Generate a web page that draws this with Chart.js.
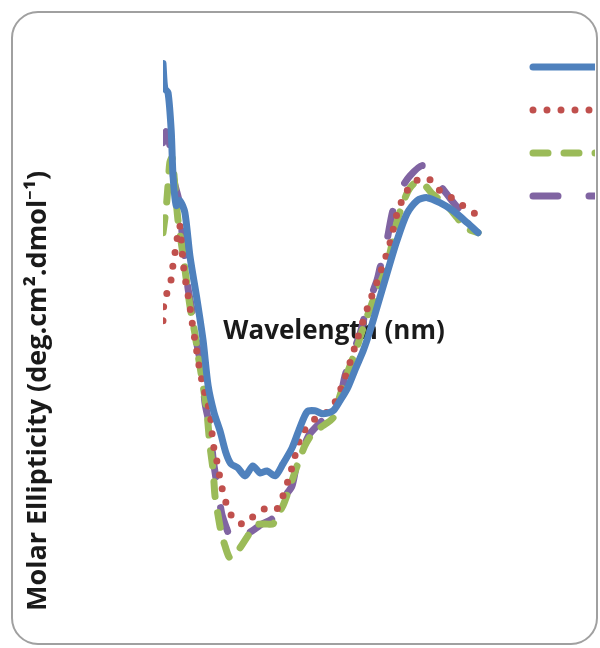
<!DOCTYPE html>
<html>
<head>
<meta charset="utf-8">
<script src="https://cdn.jsdelivr.net/npm/chart.js@4.4.1/dist/chart.umd.min.js"></script>
<style>
html,body{margin:0;padding:0;background:#fff;overflow:hidden}
#wrap{width:600px;height:648px;position:relative}
</style>
</head>
<body>
<div id="wrap"><canvas id="c" width="600" height="648"></canvas></div>
<script>
// ---- data (wavelength in nm, molar ellipticity in 10^3 deg.cm2.dmol-1) ----
const seriesNames = ["Sample 1", "Sample 2", "Sample 3", "Sample 4"];

const wlBlue = [190.0,190.4,191.1,191.8,192.2,192.9,193.7,194.8,195.9,197.5,198.8,199.9,201.2,202.5,203.8,204.9,206.4,208.0,209.7,211.3,212.8,214.6,216.3,218.3,220.0,221.6,223.3,225.1,227.3,228.8,230.4,232.3,233.9,235.4,236.9,239.1,241.3,243.5,245.7,247.9,250.7,253.6,256.7,259.1];
const valBlue = [25.2,22.7,22.3,18.5,14.0,11.0,11.5,10.3,6.0,1.5,-2.5,-7.0,-9.7,-11.5,-13.7,-14.8,-15.2,-16.0,-15.0,-15.7,-15.5,-16.0,-14.8,-13.2,-11.2,-9.6,-9.5,-9.8,-9.5,-8.5,-7.3,-5.2,-3.5,-1.5,0.8,4.2,7.5,10.2,11.5,11.8,11.3,10.5,9.3,8.3];

const wlRed = [190.0,190.2,190.7,191.5,192.0,192.6,193.1,193.7,194.4,195.0,195.7,196.4,197.2,198.1,199.2,200.3,201.0,201.8,202.5,203.2,204.3,205.8,208.0,210.6,213.0,215.0,216.3,217.4,218.5,219.4,220.7,222.7,224.9,227.3,229.9,232.5,235.0,237.6,239.8,241.5,243.3,244.8,247.9,250.7,253.6,256.4,259.1];
const valRed = [-0.5,1.2,2.1,2.8,4.5,6.2,7.7,9.0,5.3,3.3,1.5,-0.7,-3.0,-5.5,-7.8,-9.7,-12.8,-14.5,-16.2,-17.7,-19.3,-20.5,-20.8,-19.7,-19.2,-19.3,-18.0,-16.5,-14.8,-13.2,-11.7,-10.5,-10.0,-9.0,-6.2,-2.5,1.0,4.2,7.3,10.5,12.3,13.3,13.8,12.5,11.7,10.8,10.0];

const wlGreen = [190.0,190.7,191.1,191.5,192.0,192.6,193.3,194.2,195.0,195.9,197.0,197.9,198.8,199.6,200.3,201.0,201.4,202.1,202.7,203.6,204.7,206.4,208.6,210.4,212.4,214.1,215.2,216.3,217.9,219.4,221.1,222.7,224.4,227.3,228.8,231.0,232.5,233.9,235.8,237.6,239.1,241.5,243.1,244.2,245.7,247.5,249.0,252.3,254.5,256.2,259.1];
const valGreen = [8.3,10.8,13.0,15.3,15.8,13.0,9.5,6.7,4.0,1.0,-1.8,-4.5,-7.0,-9.5,-13.0,-15.5,-18.0,-20.0,-21.5,-23.0,-24.2,-23.5,-22.0,-20.9,-20.8,-20.8,-19.8,-19.0,-17.0,-15.0,-13.0,-11.8,-11.2,-10.2,-8.0,-5.0,-3.2,-1.2,1.2,3.2,5.0,9.7,11.8,12.8,13.4,13.0,12.2,11.0,9.8,8.8,8.3];

const wlPurple = [190.0,190.7,191.5,192.4,193.5,194.2,194.8,195.5,196.6,197.5,198.6,199.2,200.3,201.0,201.8,202.9,204.0,205.1,206.9,209.5,211.7,213.9,215.2,216.8,218.3,219.6,220.9,222.2,224.4,226.6,228.8,229.9,231.0,233.2,234.7,236.9,237.6,239.1,240.4,242.4,244.2,246.8,248.6,250.3,252.5,254.7,256.9,259.1];
const valPurple = [17.3,18.4,17.0,13.5,11.5,8.2,5.8,2.7,0.0,-3.0,-5.5,-8.7,-11.2,-14.3,-16.8,-19.8,-21.3,-22.5,-22.2,-21.5,-20.8,-20.3,-19.2,-18.0,-17.0,-14.2,-13.0,-11.8,-10.7,-9.7,-8.2,-6.0,-4.5,-1.8,0.8,3.5,4.8,7.5,10.5,12.8,14.0,15.0,14.3,13.3,12.0,10.8,10.3,9.8];

const xTitle = "Wavelength (nm)";
const yTitle = "Molar Ellipticity (deg.cm\u00B2.dmol\u207B\u00B9)";

// ---- build ----
const pts = (xs, ys) => xs.map((x, i) => ({x: x, y: ys[i]}));
const colors = ["#4F81BD", "#C0504D", "#9BBB59", "#8064A2"];
const dashes = [[], [0, 14], [15, 16], [25, 31]];
const seriesData = [pts(wlBlue, valBlue), pts(wlRed, valRed), pts(wlGreen, valGreen), pts(wlPurple, valPurple)];

const X_TITLE_FONT = 26;
const Y_TITLE_FONT = 27;
const YLH = Y_TITLE_FONT * 1.2;
const FAMILY = "'Open Sans', 'Noto Sans', sans-serif";

const datasets = seriesData.map((d, i) => ({
  label: seriesNames[i],
  data: d,
  borderColor: colors[i],
  backgroundColor: colors[i],
  borderWidth: 7,
  borderDash: dashes[i],
  borderCapStyle: 'round',
  borderJoinStyle: 'round',
  pointRadius: 0,
  pointHoverRadius: 0,
  tension: 0.25,
  fill: false
}));

const frame = {
  id: 'frame',
  beforeDraw(chart) {
    const ctx = chart.ctx;
    ctx.save();
    ctx.fillStyle = '#ffffff';
    ctx.fillRect(0, 0, chart.width, chart.height);
    ctx.strokeStyle = '#a0a0a0';
    ctx.lineWidth = 2;
    ctx.beginPath();
    ctx.roundRect(12, 12, 585, 632, 26);
    ctx.stroke();
    ctx.restore();
  }
};

new Chart(document.getElementById('c'), {
  type: 'line',
  data: { datasets: datasets },
  options: {
    responsive: false,
    animation: false,
    devicePixelRatio: 1,
    layout: { padding: { left: 20, right: 5, top: 31.5, bottom: 37 } },
    plugins: {
      tooltip: { enabled: false },
      legend: {
        position: 'right',
        align: 'start',
        maxWidth: 90,
        labels: {
          usePointStyle: true,
          pointStyleWidth: 100,
          padding: 28,
          font: { family: FAMILY, size: 15 },
          color: '#000',
          generateLabels(chart) {
            return chart.data.datasets.map((ds, i) => ({
              text: ds.label,
              fillStyle: ds.borderColor,
              strokeStyle: ds.borderColor,
              lineWidth: ds.borderWidth,
              lineDash: ds.borderDash,
              lineCap: 'round',
              lineJoin: 'round',
              pointStyle: 'line',
              rotation: 180,
              hidden: false,
              datasetIndex: i
            }));
          }
        }
      }
    },
    scales: {
      x: {
        type: 'linear',
        axis: 'x',
        min: 190,
        max: 265,
        position: { y: 0 },
        grid: { display: false, drawTicks: false },
        border: { display: false },
        ticks: { display: false },
        title: {
          display: true,
          text: xTitle,
          color: '#1a1a1a',
          padding: 0,
          font: { family: FAMILY, size: X_TITLE_FONT, weight: 'bold', lineHeight: 1.2 }
        }
      },
      y: {
        type: 'linear',
        min: -29.5,
        max: 28.4,
        position: 'left',
        grid: { display: false, drawTicks: false },
        border: { display: false },
        ticks: { display: false },
        afterFit(scale) { scale.width = 143; },
        title: {
          display: true,
          text: yTitle,
          align: 'start',
          color: '#1a1a1a',
          padding: { top: 38 - 20 - YLH / 2, bottom: 0 },
          font: { family: FAMILY, size: Y_TITLE_FONT, weight: 'bold', lineHeight: 1.2 }
        }
      }
    }
  },
  plugins: [frame]
});
</script>
</body>
</html>
